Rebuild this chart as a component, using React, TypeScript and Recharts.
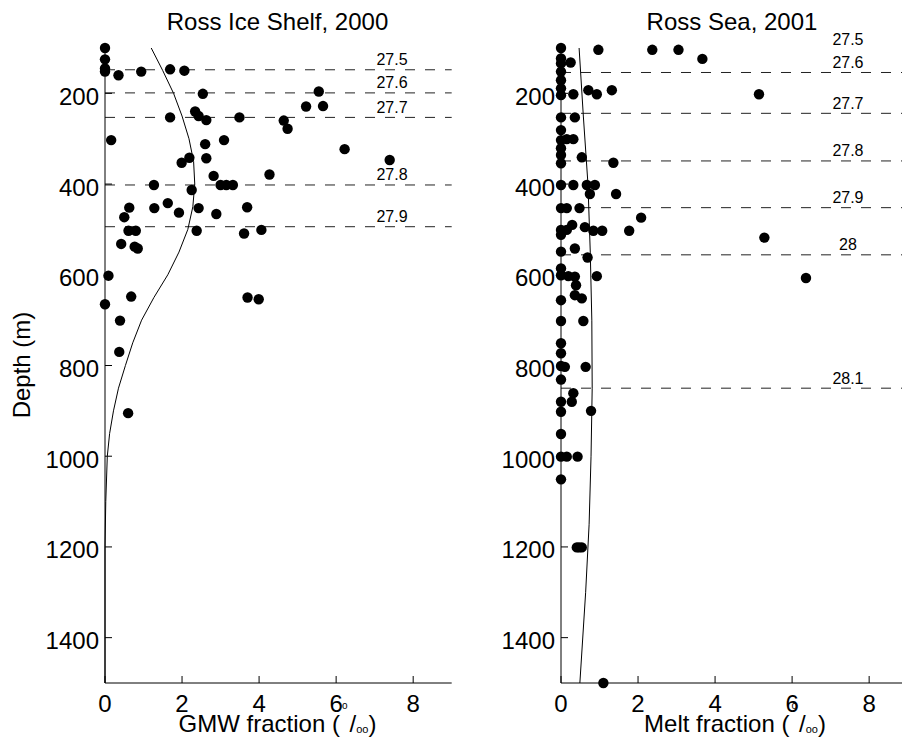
import { ScatterChart, Scatter, XAxis, YAxis, ReferenceLine, ReferenceDot } from 'recharts'

const FONT = '"Liberation Sans", Arial, Helvetica, sans-serif'

// Ross Ice Shelf 2000: GMW fraction (per mil) vs depth (m)
const shelfGmw = [
  0, 0, 0, 0, 0.35, 0.94, 1.69, 2.06, 2.54,
  1.69, 2.34, 2.43, 2.63, 3.49, 4.64, 4.74, 5.22, 5.55, 5.66,
  0.16, 3.09, 2.6, 2.63, 2.19, 1.99, 6.22, 7.39,
  4.27, 2.82, 3.0, 3.15, 3.32, 1.27, 2.25,
  1.28, 1.63, 1.92, 2.43, 2.89, 3.69,
  0.63, 0.5, 0.61, 0.8, 2.38, 3.61, 4.06,
  0.42, 0.77, 0.85,
  0.09, 0, 0.68, 3.7, 3.99,
  0.39, 0.37, 0.6,
]
const shelfDepth = [
  100, 125, 145, 152, 160, 152, 147, 150, 201,
  253, 240, 250, 259, 253, 260, 278, 229, 196, 228,
  303, 303, 312, 343, 342, 353, 323, 347,
  379, 382, 402, 402, 402, 402, 413,
  453, 442, 463, 453, 466, 451,
  452, 473, 503, 503, 503, 509, 501,
  532, 538, 542,
  602, 665, 648, 650, 654,
  701, 770, 905,
]
const shelfFitDepth = [100, 150, 200, 250, 300, 350, 400, 450, 500, 550, 600, 650, 700, 750, 800, 850, 900, 950, 1000, 1100, 1200, 1500]
const shelfFitGmw = [1.2, 1.5, 1.78, 2.0, 2.18, 2.3, 2.33, 2.28, 2.15, 1.92, 1.63, 1.27, 0.95, 0.72, 0.53, 0.35, 0.22, 0.12, 0.06, 0.02, 0, 0]
const shelfIsoNames = ['27.5', '27.6', '27.7', '27.8', '27.9']
const shelfIsoDepth = [148, 199, 253, 402, 494]

// Ross Sea 2001: melt fraction (per mil) vs depth (m)
const seaMelt = [
  0, 0, 0, 0, 0, 0, 0, 0, 0, 0, 0, 0, 0, 0, 0, 0, 0, 0, 0, 0,
  0, 0, 0, 0, 0, 0, 0, 0, 0, 0, 0,
  0.97, 2.37, 3.05, 3.67, 0.25,
  0.32, 0.71, 0.93, 1.32, 5.14,
  0.36, 0.15, 0.32, 0.54, 1.36,
  0.32, 0.67, 0.88, 0.75, 1.43,
  0.15, 0.48, 2.08,
  0.15, 0.29, 0.62, 0.84, 1.07, 1.77, 5.28,
  0.36, 0.69,
  0.19, 0.36, 0.93, 6.36, 0.39,
  0.36, 0.54, 0.58,
  0.1, 0.64, 0.32, 0.28, 0.78,
  0.15, 0.43, 0.41, 0.47, 0.54, 1.1,
]
const seaDepth = [
  100, 123, 134, 152, 171, 189, 204, 253, 281, 303, 321, 336, 354, 402, 453, 501, 512, 549, 586, 601,
  656, 702, 751, 773, 801, 831, 880, 902, 951, 1001, 1051,
  104, 104, 104, 124, 132,
  202, 193, 202, 193, 202,
  253, 301, 301, 341, 353,
  402, 402, 402, 422, 422,
  453, 453, 474,
  501, 490, 495, 503, 503, 503, 518,
  542, 562,
  603, 604, 603, 607, 623,
  645, 652, 702,
  803, 803, 861, 880, 900,
  1001, 1001, 1201, 1201, 1201, 1500,
]
const seaFitDepth = [100, 250, 400, 550, 700, 850, 1000, 1150, 1300, 1500]
const seaFitMelt = [0.47, 0.58, 0.7, 0.76, 0.8, 0.81, 0.78, 0.73, 0.64, 0.49]
const seaIsoNames = ['27.5', '27.6', '27.7', '27.8', '27.9', '28', '28.1']
const seaIsoDepth = [104, 154, 244, 349, 452, 556, 850]
const seaIsoDrawn = [false, true, true, true, true, true, true]

const depthTicks = [200, 400, 600, 800, 1000, 1200, 1400]
const fracTicks = [0, 2, 4, 6, 8]
const labelX = 7.45

const zip = (xs: number[], ds: number[]) => xs.map((x, i) => ({ x, d: ds[i] }))

function Dot(props: any) {
  const { cx, cy } = props
  if (cx == null || cy == null) return <g />
  return <circle cx={cx} cy={cy} r={5.2} fill="#000" />
}

interface PanelProps {
  left: number
  width: number
  marginRight: number
  xMax: number
  points: { x: number; d: number }[]
  fit: { x: number; d: number }[]
  isoNames: string[]
  isoDepth: number[]
  isoDrawn?: boolean[]
}

function Panel({ left, width, marginRight, xMax, points, fit, isoNames, isoDepth, isoDrawn }: PanelProps) {
  const tick = { fill: '#000', fontSize: 24, fontFamily: FONT }
  return (
    <div style={{ position: 'absolute', left, top: 0 }}>
      <ScatterChart width={width} height={744} margin={{ top: 48, right: marginRight, bottom: 0, left: 0 }}>
        <XAxis
          type="number"
          dataKey="x"
          domain={[0, xMax]}
          ticks={fracTicks}
          height={61}
          tickSize={-7}
          tickMargin={19}
          tick={tick}
          axisLine={{ stroke: '#000' }}
          tickLine={{ stroke: '#000' }}
        />
        <YAxis
          type="number"
          dataKey="d"
          domain={[100, 1500]}
          reversed
          ticks={depthTicks}
          width={105}
          tickSize={-7}
          tickMargin={13}
          tick={{ ...tick, dy: 3 }}
          axisLine={{ stroke: '#000' }}
          tickLine={{ stroke: '#000' }}
        />
        {isoDepth.map((d, i) =>
          isoDrawn && !isoDrawn[i] ? null : (
            <ReferenceLine key={'l' + i} y={d} stroke="#222" strokeDasharray="10 10" />
          )
        )}
        <Scatter
          data={fit}
          line={{ stroke: '#000', strokeWidth: 1 }}
          lineType="joint"
          shape={() => <g />}
          isAnimationActive={false}
        />
        <Scatter data={points} shape={Dot} isAnimationActive={false} />
        {isoDepth.map((d, i) => (
          <ReferenceDot
            key={'t' + i}
            x={labelX}
            y={d}
            r={0.5}
            fill="none"
            stroke="none"
            label={{ value: isoNames[i], position: 'top', offset: 4, fontSize: 16, fill: '#000', fontFamily: FONT }}
          />
        ))}
      </ScatterChart>
    </div>
  )
}

export default function App() {
  return (
    <div style={{ position: 'absolute', left: 0, top: 0, width: 902, height: 744, background: '#fff', overflow: 'hidden' }}>
      <Panel
        left={0}
        width={460}
        marginRight={8.3}
        xMax={9}
        points={zip(shelfGmw, shelfDepth)}
        fit={zip(shelfFitGmw, shelfFitDepth)}
        isoNames={shelfIsoNames}
        isoDepth={shelfIsoDepth}
      />
      <Panel
        left={456}
        width={446}
        marginRight={0}
        xMax={8.853}
        points={zip(seaMelt, seaDepth)}
        fit={zip(seaFitMelt, seaFitDepth)}
        isoNames={seaIsoNames}
        isoDepth={seaIsoDepth}
        isoDrawn={seaIsoDrawn}
      />
      <svg
        width={902}
        height={744}
        style={{ position: 'absolute', left: 0, top: 0, pointerEvents: 'none' }}
        fontFamily={FONT}
      >
        <text x={277.5} y={30} textAnchor="middle" fontSize={24} fill="#000">Ross Ice Shelf, 2000</text>
        <text x={732} y={30} textAnchor="middle" fontSize={24} fill="#000">Ross Sea, 2001</text>
        <text x={-365} y={30} transform="rotate(-90)" textAnchor="middle" fontSize={24} fill="#000">Depth (m)</text>
        <text x={277.5} y={731.7} textAnchor="middle" fontSize={24} fill="#000">
          GMW fraction (<tspan fontSize={10} dx={2} dy={-22.7}>o</tspan>
          <tspan dx={2} dy={22.7}>/</tspan>
          <tspan fontSize={11} dy={1.3}>oo</tspan>
          <tspan dy={-1.3}>)</tspan>
        </text>
        <text x={735} y={731.7} textAnchor="middle" fontSize={24} fill="#000">
          Melt fraction (<tspan fontSize={10} dx={2} dy={-22.7}>o</tspan>
          <tspan dx={2} dy={22.7}>/</tspan>
          <tspan fontSize={11} dy={1.3}>oo</tspan>
          <tspan dy={-1.3}>)</tspan>
        </text>
      </svg>
    </div>
  )
}
